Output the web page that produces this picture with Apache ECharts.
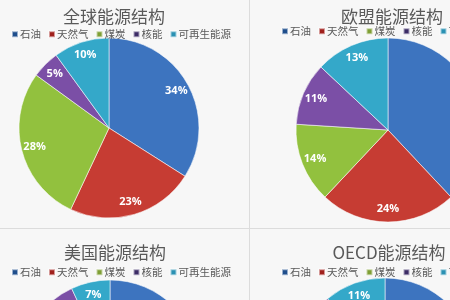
<!DOCTYPE html>
<html>
<head>
<meta charset="utf-8">
<script src="https://cdn.jsdelivr.net/npm/echarts@6/dist/echarts.min.js"></script>
<style>
html,body{margin:0;padding:0;background:#f7f7f7;}
#chart{width:450px;height:300px;}
</style>
</head>
<body>
<div id="chart"></div>
<script>
const categories = ['石油', '天然气', '煤炭', '核能', '可再生能源'];
const globalShare = [34, 23, 28, 5, 10];
const euShare = [38, 24, 14, 11, 13];
const usShare = [37, 29, 19, 8, 7];
const oecdShare = [36, 26, 19, 8, 11];
const chartTitles = ['全球能源结构', '欧盟能源结构', '美国能源结构', 'OECD能源结构'];

const sliceColors = ['#3d74bf', '#c63c33', '#92c13e', '#7b4fa6', '#34a8c9'];
const legendColors = ['#1f4e8c', '#a0201c', '#7f9f35', '#3c2c66', '#2a91b3'];

const panels = [
  { values: globalShare, center: [109, 128], r: 90, title: [109, 3], legend: [6, 24] },
  { values: euShare, center: [388, 130], r: 92, title: [387, 3], legend: [276, 21] },
  { values: usShare, center: [110, 370], r: 90, title: [110, 239], legend: [6, 262] },
  { values: oecdShare, center: [385, 368], r: 90, title: [384, 239], legend: [276, 262] }
];

const chart = echarts.init(document.getElementById('chart'), null, { renderer: 'canvas' });

const titles = [], legends = [], series = [];
panels.forEach((p, i) => {
  const data = categories.map((c, k) => ({ name: c, value: p.values[k] }));
  titles.push({
    text: chartTitles[i], left: p.title[0], top: p.title[1], textAlign: 'center',
    textStyle: { fontFamily: 'Noto Sans CJK SC', fontSize: 17, fontWeight: 'normal', color: '#595959' }
  });
  legends.push({
    left: p.legend[0], top: p.legend[1], width: 400, orient: 'horizontal', icon: 'rect',
    itemWidth: 6, itemHeight: 6, itemGap: 7,
    textStyle: { fontFamily: 'Noto Sans CJK SC', fontSize: 10.5, color: '#595959', padding: [0, 0, 0, -3] },
    data: categories.map((c, k) => ({ name: c, itemStyle: { color: legendColors[k] } }))
  });
  series.push({
    type: 'pie', center: p.center, radius: [0, p.r], startAngle: 90, clockwise: true,
    silent: true, animation: false,
    data: data,
    label: { show: false }, labelLine: { show: false },
    itemStyle: { color: (params) => sliceColors[params.dataIndex], borderColor: 'rgba(255,255,255,0.55)', borderWidth: 1 }
  });
  series.push({
    type: 'pie', center: p.center, radius: [p.r * 0.64, p.r], startAngle: 90, clockwise: true,
    silent: true, animation: false,
    data: data,
    itemStyle: { color: 'rgba(0,0,0,0)' },
    label: {
      show: true, position: 'inside', formatter: '{c}%', color: '#ffffff',
      fontFamily: 'Open Sans', fontWeight: 'bold', fontSize: 11
    },
    labelLine: { show: false }
  });
});

chart.setOption({
  backgroundColor: '#f7f7f7',
  animation: false,
  title: titles,
  legend: legends,
  series: series,
  graphic: [
    { type: 'line', shape: { x1: 249.5, y1: 0, x2: 249.5, y2: 300 }, style: { stroke: '#dcdcdc', lineWidth: 1 }, z: 0 },
    { type: 'line', shape: { x1: 0, y1: 228.5, x2: 450, y2: 228.5 }, style: { stroke: '#dcdcdc', lineWidth: 1 }, z: 0 }
  ]
});
</script>
</body>
</html>
